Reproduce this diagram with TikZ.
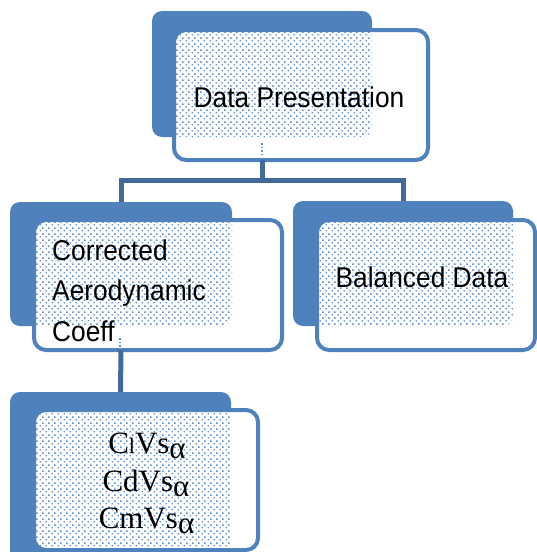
\documentclass[tikz,border=0pt]{standalone}
\usepackage{fontspec}
\setmainfont{Liberation Sans}[FakeStretch=0.92]
\newfontfamily\serifface{Liberation Serif}
\usetikzlibrary{patterns.meta}

\definecolor{boxblue}{HTML}{4F81BD}
\definecolor{linkblue}{HTML}{41699C}
\definecolor{dotblue}{HTML}{5F8DC8}

% small square dots on a diagonal grid
\tikzdeclarepattern{
  name=bluedots,
  type=uncolored,
  bounding box={(0pt,0pt) and (5.6pt,5.6pt)},
  tile size={(5.6pt,5.6pt)},
  code={
    \fill (0.6pt,0.6pt) rectangle (2.1pt,2.1pt);
    \fill (3.4pt,3.4pt) rectangle (4.9pt,4.9pt);
  }
}

\begin{document}
\begin{tikzpicture}[x=1pt,y=-1pt,
  backbox/.style={fill=boxblue, rounded corners=10pt, inner sep=0pt, outer sep=0pt},
  frontbox/.style={fill=white, rounded corners=12pt, inner sep=0pt, outer sep=0pt},
  frame/.style={draw=boxblue, line width=4pt, rounded corners=12pt},
  dotted fill/.style={pattern=bluedots, pattern color=dotblue, rounded corners=12pt},
  link/.style={draw=linkblue, line width=5pt},
  stub/.style={draw=dotblue, line width=1.5pt, dash pattern=on 1.5pt off 2pt},
  boxtext/.style={font=\fontsize{28.6}{32}\selectfont, inner sep=0pt},
  formula/.style={font=\serifface\fontsize{31}{36}\selectfont, inner sep=0pt}]

\clip (0,0) rectangle (537,552);

% ---------- boxes: dark tab behind, white card in front ----------
\node[backbox, minimum width=220pt, minimum height=126pt] (topb) at (262,74) {};
\node[frontbox, minimum width=254pt, minimum height=130pt] (topf) at (301,95) {};

\node[backbox, minimum width=222pt, minimum height=124pt] (leftb) at (121,264) {};
\node[frontbox, minimum width=248pt, minimum height=130pt] (leftf) at (158,285) {};

\node[backbox, minimum width=220pt, minimum height=125pt] (rightb) at (403,263.5) {};
\node[frontbox, minimum width=218pt, minimum height=130pt] (rightf) at (426,285) {};

\node[backbox, minimum width=221pt, minimum height=188pt] (botb) at (120.5,486) {};
\node[frontbox, minimum width=224pt, minimum height=140pt] (botf) at (146,480) {};

% dotted shading where each card covers its tab
\foreach \b/\f in {topb/topf, leftb/leftf, rightb/rightf, botb/botf}{
  \begin{scope}
    \clip[rounded corners=10pt] (\b.north west) rectangle (\b.south east);
    \fill[dotted fill] (\f.north west) rectangle (\f.south east);
  \end{scope}
  \draw[frame] (\f.north west) rectangle (\f.south east);
}

% faint dotted stubs inside the cards
\draw[stub] (262,143) -- (262,157);
\draw[stub] (120,338) -- (120,349);

% ---------- connectors ----------
\draw[link] (topb.south |- topf.south) -- ++(0,20) coordinate (hub);
\draw[link] (leftb.north) |- (hub) -| (rightb.north);
\draw[link] (leftb.south |- leftf.south) -- (botb.north);

% ---------- labels ----------
\node[boxtext, anchor=base] (dp) at (299,107) {Data Presentation};
\node[boxtext, anchor=base west] (cae1) at (52,260) {Corrected};
\node[boxtext, anchor=base west] (cae2) at (52,300.5) {Aerodynamic};
\node[boxtext, anchor=base west] (cae3) at (52,341.5) {Coeff};
\node[boxtext, anchor=base] (bd) at (422,287) {Balanced Data};

\node[formula, anchor=base] (cl) at (147,453) {C{\fontsize{22}{22}\selectfont l}Vs\raisebox{-5pt}{α}};
\node[formula, anchor=base] (cd) at (146,491) {CdVs\raisebox{-5pt}{α}};
\node[formula, anchor=base] (cm) at (146.5,528) {CmVs\raisebox{-5pt}{α}};

\end{tikzpicture}
\end{document}
